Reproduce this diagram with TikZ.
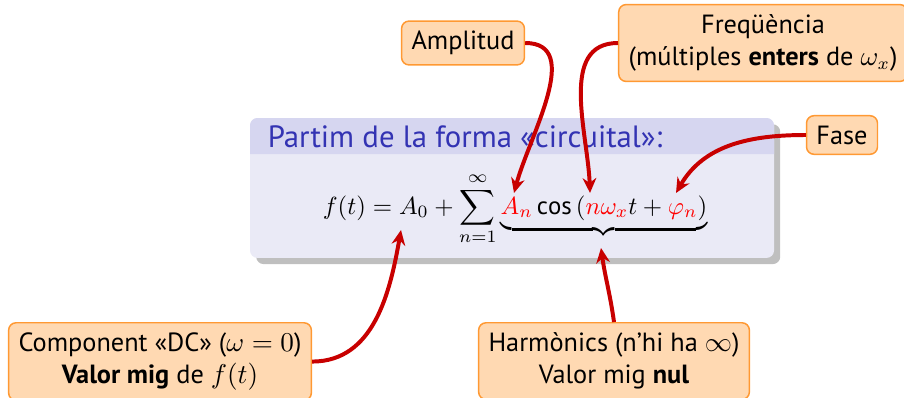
\documentclass[tikz,border=0pt]{standalone}
\usepackage{amsmath, amssymb}
\usepackage{fontspec}
\setmainfont{PT Sans}
\usepackage{xcolor}
\usepackage{tikz}
\usetikzlibrary{arrows.meta, positioning, shadows}
\definecolor{bxfill}{RGB}{255,217,178}
\definecolor{bxdraw}{RGB}{255,153,51}
\definecolor{blkbody}{RGB}{234,234,246}
\definecolor{blktitle}{RGB}{214,214,240}
\definecolor{blktext}{RGB}{51,51,179}
\definecolor{lnkred}{RGB}{200,0,0}

\begin{document}
\begin{tikzpicture}[
  x=0.01416cm, y=-0.01416cm,
  every node/.style={font=\fontsize{10.6}{13}\selectfont},
  note/.style={rectangle, draw=bxdraw, fill=bxfill, rounded corners=3pt,
               align=center, inner sep=4pt, line width=0.6pt},
  block/.style={rectangle, fill=blkbody, rounded corners=3pt,
                minimum width=7.42cm, minimum height=1.98cm,
                drop shadow={opacity=0.5, shadow xshift=2.5pt, shadow yshift=-2.5pt}},
  link/.style={-{Stealth[length=6pt, width=5.5pt]}, line width=1.6pt, color=lnkred},
]
\useasboundingbox (0,0) rectangle (904,397);

% Block
\node[block] (blk) at (512,188) {};
\fill[blktitle] (250,154) [rounded corners=3pt] -- (250,118) -- (774,118)
  [sharp corners] -- (774,154) -- cycle;
\node[anchor=west, text=blktext, font=\fontsize{12.4}{15}\selectfont] (title) at (259,137)
  {Partim de la forma «circuital»:};
\node[anchor=base, font=\fontsize{10}{12}\selectfont] (eq) at (515,214)
  {$\displaystyle f(t) = A_0 + \sum_{n=1}^{\infty}
   \underbrace{\textcolor{red}{A_n}\cos\left(\textcolor{red}{n\omega_x}t
   + \textcolor{red}{\varphi_n}\right)}$};

% Targets in the formula
\coordinate (tA0)  at (401,230);
\coordinate (tAn)  at (514,193);
\coordinate (tnw)  at (590,193);
\coordinate (tphi) at (676,193);
\coordinate (tbr)  at (601,248);

% Notes
\node[note] (amp)  at (463,43)  {Amplitud};
\node[note] (freq) at (763,43)  {Freqüència\\(múltiples \textbf{enters} de $\omega_x$)};
\node[note] (fase) at (842,135) {Fase};
\node[note, anchor=north] (dc)   at (160,322)
  {Component «DC» ($\omega = 0$)\\\textbf{Valor mig} de $f(t)$};
\node[note, anchor=north] (harm) at (614,322)
  {Harmònics (n’hi ha $\infty$)\\Valor mig \textbf{nul}};

% ── Notes → formula ──
\draw[link] (amp.east)  to[out=0, in=75]    (tAn);
\draw[link] (freq.west) to[out=180, in=92]  (tnw);
\draw[link] (fase.west) to[out=180, in=60]  (tphi);
\draw[link] (dc.east)   to[out=0, in=-100]  (tA0);
\draw[link] (harm.north) to[out=98, in=-82] (tbr);

\end{tikzpicture}
\end{document}
